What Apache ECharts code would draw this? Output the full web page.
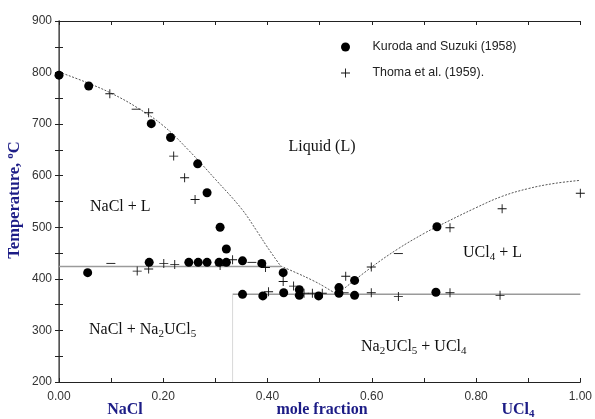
<!DOCTYPE html>
<html>
<head>
<meta charset="utf-8">
<script src="https://cdn.jsdelivr.net/npm/echarts@6/dist/echarts.min.js"></script>
<style>
  html, body { margin: 0; padding: 0; background: #fff; }
  #chart { width: 595px; height: 419px; }
</style>
</head>
<body>
<div id="chart"></div>
<script>
// liquidus curves [mole fraction UCl4, T °C]
const liquidusNaCl = [[0, 801], [0.05, 782], [0.1, 760], [0.15, 732], [0.2, 697], [0.25, 648], [0.3, 593], [0.35, 536], [0.38, 492], [0.4, 461], [0.425, 425]];
const liquidusMid = [[0.425, 425], [0.47, 405], [0.5, 390], [0.533, 370]];
const liquidusUCl4 = [[0.533, 370], [0.6, 423], [0.65, 458], [0.7, 488], [0.725, 501], [0.8, 538], [0.85, 560], [0.9, 575], [0.95, 585], [1.0, 591]];
// invariant lines
const peritecticLine = [[0, 424], [0.426, 424]];
const eutecticLine = [[0.333, 370], [1.0, 370]];
const compoundLine = [[0.333, 370], [0.333, 200]];

// Kuroda and Suzuki (1958)
const kuroda = [
  [0.000, 795], [0.057, 774], [0.177, 701], [0.214, 674], [0.266, 623], [0.284, 567], [0.309, 500], [0.321, 458],
  [0.055, 412], [0.173, 432], [0.249, 432], [0.267, 432], [0.284, 432], [0.307, 432], [0.321, 432], [0.352, 435], [0.389, 430], [0.430, 412],
  [0.352, 370], [0.391, 367], [0.431, 373], [0.461, 379], [0.461, 368], [0.498, 367], [0.537, 383], [0.537, 372],
  [0.567, 397], [0.567, 368], [0.723, 374], [0.725, 501]
];
// Thoma et al. (1959)
const thoma = [
  [0.0975, 759], [0.172, 722], [0.220, 638], [0.241, 596], [0.261, 554], [0.333, 437], [0.309, 426], [0.396, 422],
  [0.150, 415], [0.172, 419], [0.201, 430], [0.222, 428], [0.430, 395], [0.402, 375], [0.450, 386], [0.470, 372],
  [0.486, 372], [0.505, 372], [0.550, 405], [0.599, 423], [0.599, 373], [0.651, 366], [0.750, 373], [0.846, 368],
  [0.750, 499], [0.850, 536], [1.0, 566]
];
const thomaDash = [[0.0995, 430], [0.148, 729], [0.370, 432], [0.547, 373], [0.651, 449]];

const xTicks = [0, 0.2, 0.4, 0.6, 0.8, 1.0];
const yTicks = [200, 300, 400, 500, 600, 700, 800, 900];

const serif = 'Liberation Serif';
const sans = 'Liberation Sans';
const navy = '#1c1c86';
const plusPath = 'path://M4.5,0 h1 v4.5 h4.5 v1 h-4.5 v4.5 h-1 v-4.5 h-4.5 v-1 h4.5z';
const dashPath = 'path://M0,4.5 h10 v1 h-10z';
const subRich = {
  s: { fontSize: 11, fontFamily: serif, padding: [9, 0, 0, 0], fill: '#111' },
  o: { fontSize: 11, fontFamily: serif, fontWeight: 'bold', padding: [0, 0, 9, 0], fill: navy }
};

const chart = echarts.init(document.getElementById('chart'));

const axisBase = {
  axisLine: { lineStyle: { color: '#222', width: 1 } },
  axisTick: { inside: true, length: 4, lineStyle: { color: '#222' } },
  minorTick: { show: true, splitNumber: 2, length: 4, lineStyle: { color: '#222' } },
  splitLine: { show: false }
};

function lineSeries(data, style, smooth) {
  return {
    type: 'line', data: data, symbol: 'none', silent: true, smooth: smooth || false,
    lineStyle: style, z: 1
  };
}

const liqStyle = { color: '#555', width: 1, type: [2, 1.5] };

chart.setOption({
  animation: false,
  grid: { left: 59, right: 13, top: 21, bottom: 37 },
  legend: {
    orient: 'vertical', left: 336, top: 36, itemWidth: 44, itemHeight: 9, itemGap: 14,
    data: ['Kuroda and Suzuki (1958)', 'Thoma et al. (1959).'],
    textStyle: { fontFamily: sans, fontSize: 12.4, color: '#222' }
  },
  xAxis: [
    Object.assign({
      type: 'value', min: xTicks[0], max: xTicks[xTicks.length - 1], interval: 0.2, position: 'bottom',
      axisLabel: { formatter: v => v.toFixed(2), fontFamily: sans, fontSize: 12, color: '#333', margin: 9 }
    }, axisBase),
    Object.assign({
      type: 'value', min: 0, max: 1, interval: 0.2, position: 'top',
      axisLabel: { show: false }
    }, axisBase)
  ],
  yAxis: [
    Object.assign({
      type: 'value', min: yTicks[0], max: yTicks[yTicks.length - 1], interval: 100, position: 'left',
      axisLabel: { fontFamily: sans, fontSize: 12, color: '#333', margin: 7 }
    }, axisBase),
    Object.assign({
      type: 'value', min: 200, max: 900, interval: 100, position: 'right',
      axisLabel: { show: false }
    }, axisBase, { axisLine: { lineStyle: { color: '#666', width: 1.5 } } })
  ],
  series: [
    lineSeries(liquidusNaCl, liqStyle, 0.4),
    lineSeries(liquidusMid, liqStyle, 0.3),
    lineSeries(liquidusUCl4, liqStyle, 0.4),
    lineSeries(peritecticLine, { color: '#9a9a9a', width: 1.5 }),
    lineSeries(eutecticLine, { color: '#9a9a9a', width: 1.5 }),
    lineSeries(compoundLine, { color: '#d8d8d8', width: 1 }),
    {
      name: 'Thoma et al. (1959).', type: 'scatter', data: thoma,
      symbol: plusPath, symbolSize: 9, symbolKeepAspect: true, itemStyle: { color: '#111', opacity: 1 }, z: 3
    },
    {
      name: 'thomaDash', type: 'scatter', data: thomaDash,
      symbol: dashPath, symbolSize: 9, symbolKeepAspect: true, itemStyle: { color: '#111', opacity: 1 }, z: 3
    },
    {
      name: 'Kuroda and Suzuki (1958)', type: 'scatter', data: kuroda,
      symbol: 'circle', symbolSize: 9, itemStyle: { color: '#000', opacity: 1 }, z: 4
    }
  ],
  graphic: [
    { type: 'text', x: 322, y: 147, style: { text: 'Liquid (L)', font: '16px ' + serif, fill: '#111', align: 'center', verticalAlign: 'middle' } },
    { type: 'text', x: 90, y: 207, style: { text: 'NaCl + L', font: '16px ' + serif, fill: '#111', verticalAlign: 'middle' } },
    { type: 'text', x: 89, y: 330, style: { text: 'NaCl + Na{s|2}UCl{s|5}', font: '16px ' + serif, fill: '#111', verticalAlign: 'middle', rich: subRich } },
    { type: 'text', x: 361, y: 347, style: { text: 'Na{s|2}UCl{s|5} + UCl{s|4}', font: '16px ' + serif, fill: '#111', verticalAlign: 'middle', rich: subRich } },
    { type: 'text', x: 463, y: 253, style: { text: 'UCl{s|4} + L', font: '16px ' + serif, fill: '#111', verticalAlign: 'middle', rich: subRich } },
    { type: 'text', x: 15, y: 200, rotation: Math.PI / 2, style: { text: 'Temperature, {o|o}C', font: 'bold 16.5px ' + serif, fill: navy, align: 'center', verticalAlign: 'middle', rich: subRich } },
    { type: 'text', x: 125, y: 410, style: { text: 'NaCl', font: 'bold 16px ' + serif, fill: navy, align: 'center', verticalAlign: 'middle' } },
    { type: 'text', x: 322, y: 410, style: { text: 'mole fraction', font: 'bold 16px ' + serif, fill: navy, align: 'center', verticalAlign: 'middle' } },
    { type: 'text', x: 518, y: 410, style: { text: 'UCl{s|4}', font: 'bold 16px ' + serif, fill: navy, align: 'center', verticalAlign: 'middle',
      rich: { s: { fontSize: 11, fontFamily: serif, fontWeight: 'bold', padding: [9, 0, 0, 0], fill: navy } } } }
  ]
});
</script>
</body>
</html>
